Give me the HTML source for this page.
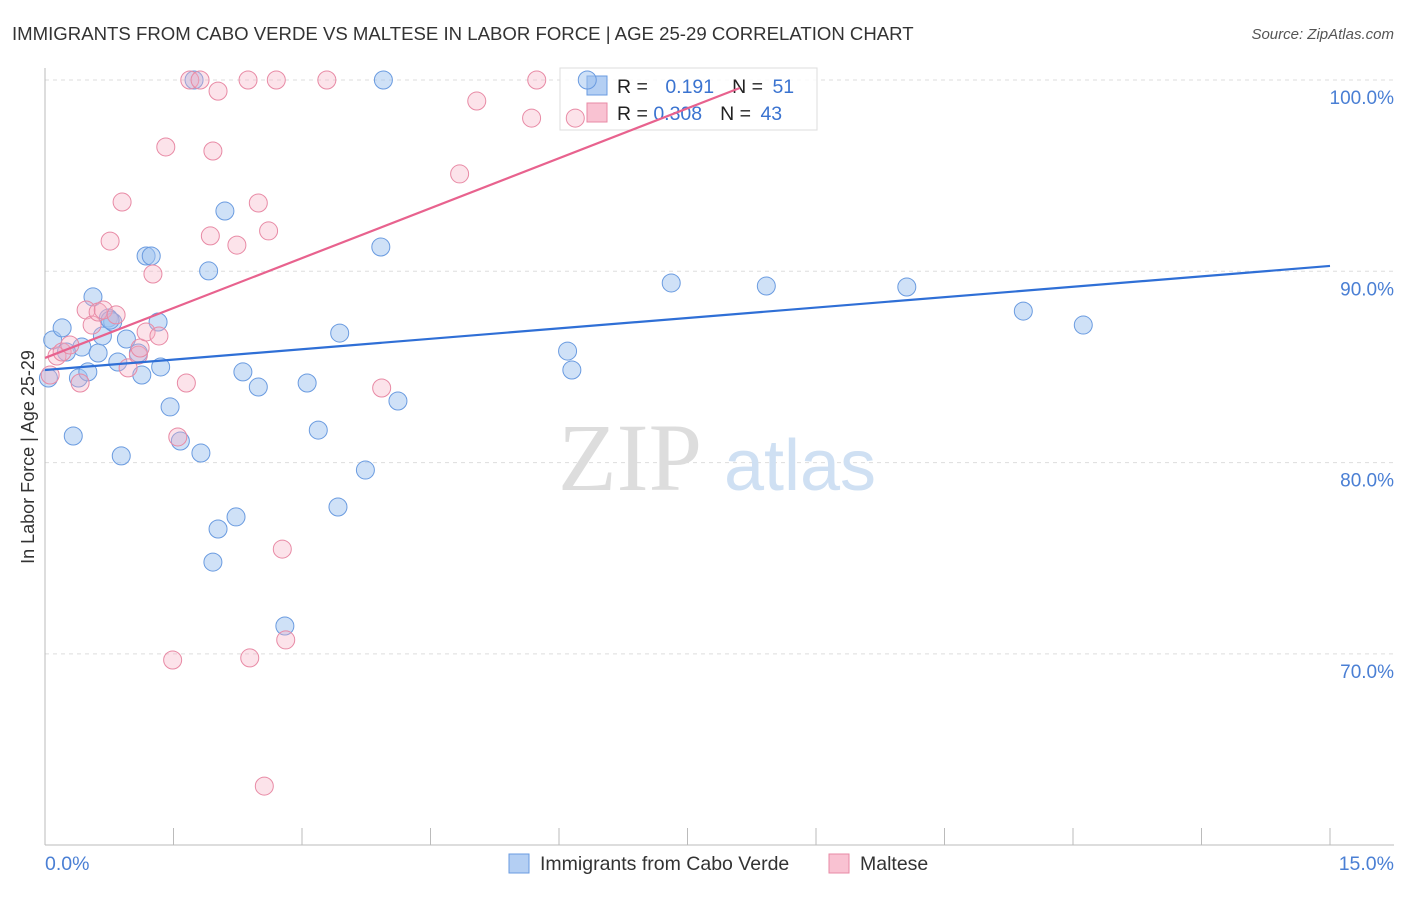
<!DOCTYPE html>
<html><head><meta charset="utf-8"><style>
body{margin:0;background:#fff;font-family:"Liberation Sans",sans-serif;}
</style></head><body>
<svg width="1406" height="892" viewBox="0 0 1406 892" xmlns="http://www.w3.org/2000/svg">
<text x="12" y="40" font-size="18.6" fill="#333">IMMIGRANTS FROM CABO VERDE VS MALTESE IN LABOR FORCE | AGE 25-29 CORRELATION CHART</text>
<text x="1394" y="39" font-size="15" fill="#555" font-style="italic" text-anchor="end">Source: ZipAtlas.com</text>
<g id="grid"></g>
<text x="630" y="490" font-size="96" fill="#ddd" font-family="Liberation Serif,serif" text-anchor="middle">ZIP</text>
<text x="800" y="490" font-size="72" fill="#cfe0f3" text-anchor="middle">atlas</text>
<line x1="45" y1="68" x2="45" y2="845" stroke="#bbb"/>
<line x1="45" y1="845" x2="1394" y2="845" stroke="#bbb"/>
<text transform="translate(34,457) rotate(-90)" font-size="18" fill="#333" text-anchor="middle">In Labor Force | Age 25-29</text>
<text x="45" y="870" font-size="19.5" fill="#4a7fd4">0.0%</text>
<text x="1394" y="870" font-size="19.5" fill="#4a7fd4" text-anchor="end">15.0%</text>
<g>
<rect x="560" y="68" width="257" height="62" fill="rgba(255,255,255,0.85)" stroke="#ddd"/>
<rect x="587" y="76" width="20" height="19" fill="#b4cff3" stroke="#6a9be0"/>
<rect x="587" y="103" width="20" height="19" fill="#f9c2d2" stroke="#e88aa5"/>
<text x="617" y="93" font-size="19.5" fill="#222">R = <tspan fill="#3a73d0" dx="12">0.191</tspan><tspan dx="18" fill="#222">N = </tspan><tspan fill="#3a73d0" dx="4">51</tspan></text>
<text x="617" y="120" font-size="19.5" fill="#222">R = <tspan fill="#3a73d0">0.308</tspan><tspan dx="18" fill="#222">N = </tspan><tspan fill="#3a73d0" dx="4">43</tspan></text>
</g>
<g id="marks"></g>
<g>
<rect x="509" y="854" width="20" height="19" fill="#b4cff3" stroke="#6a9be0"/>
<text x="540" y="870" font-size="19.5" fill="#333">Immigrants from Cabo Verde</text>
<rect x="829" y="854" width="20" height="19" fill="#f9c2d2" stroke="#e88aa5"/>
<text x="860" y="870" font-size="19.5" fill="#333">Maltese</text>
</g>
</svg>
<script>
const yTicks=[100,90,80,70];
const yTickLabels=["100.0%","90.0%","80.0%","70.0%"];
const xTicks=[0,1.5,3,4.5,6,7.5,9,10.5,12,13.5,15];
const blueX=[0.09,0.20,0.33,0.39,0.43,0.50,0.56,0.62,0.67,0.74,0.79,0.85,0.89,0.95,1.09,1.13,1.18,1.24,1.32,1.35,1.46,1.58,1.74,1.82,1.91,1.96,2.02,2.10,2.23,2.31,2.49,2.80,3.06,3.19,3.44,3.74,3.42,3.92,3.95,4.12,6.10,6.15,6.33,7.31,8.42,10.06,11.42,12.12,0.04,0.76,0.25];
const blueY=[86.41,87.04,81.39,84.42,86.04,84.74,88.66,85.73,86.62,87.56,87.35,85.26,80.35,86.46,85.73,84.58,90.80,90.80,87.35,85.00,82.91,81.13,100,80.50,90.02,74.80,76.53,93.15,77.16,84.74,83.95,71.46,84.16,81.70,86.77,79.61,77.68,91.27,100,83.22,85.83,84.84,100,89.39,89.23,89.18,87.92,87.19,84.42,87.45,85.78];
const pinkX=[0.06,0.14,0.20,0.29,0.41,0.48,0.55,0.62,0.68,0.76,0.83,0.90,0.97,1.09,1.11,1.18,1.26,1.33,1.41,1.49,1.55,1.65,1.69,1.81,1.93,1.96,2.02,2.24,2.37,2.39,2.49,2.56,2.61,2.70,2.77,2.81,3.29,3.93,4.84,5.04,5.68,5.74,6.19];
const pinkY=[84.58,85.57,85.78,86.15,84.16,87.98,87.19,87.87,87.98,91.58,87.72,93.62,84.95,85.62,85.99,86.83,89.86,86.62,96.50,69.68,81.34,84.16,100,100,91.85,96.29,99.42,91.37,100,69.79,93.57,63.09,92.11,100,75.48,70.73,100,83.90,95.09,98.90,98.01,100,98.01];
const blueTrend=[84.84,90.28];
const pinkTrend=[85.47,99.58,8.11];
const NS="http://www.w3.org/2000/svg";
const X=v=>45+v*(1285/15);
const Y=v=>80+(100-v)*19.13;
const grid=document.getElementById('grid'), marks=document.getElementById('marks');
function mk(tag,attrs,parent){const e=document.createElementNS(NS,tag);for(const k in attrs)e.setAttribute(k,attrs[k]);parent.appendChild(e);return e;}
yTicks.forEach((t,i)=>{
 const l=mk('line',{x1:45,x2:1394,y1:Y(t),y2:Y(t),stroke:'#ddd','stroke-dasharray':'4,4'},grid);
 
 
 const tx=mk('text',{x:1394,y:Y(t)+24,'font-size':19,fill:'#4a7fd4','text-anchor':'end'},grid);
 tx.textContent=yTickLabels[i];
 
 
});
xTicks.forEach(t=>{
 const l=mk('line',{x1:X(t),x2:X(t),y1:828,y2:845,stroke:'#bbb'},grid);
 
 
});
blueX.forEach((x,i)=>{
 const c=mk('circle',{cx:X(x),cy:Y(blueY[i]),r:9,fill:'rgba(160,195,240,0.5)',stroke:'#6a9be0','stroke-width':1},marks);
 
 
});
pinkX.forEach((x,i)=>{
 const c=mk('circle',{cx:X(x),cy:Y(pinkY[i]),r:9,fill:'rgba(245,175,195,0.35)',stroke:'#e88aa5','stroke-width':1},marks);
 
 
});
const bl=mk('line',{x1:X(0),y1:Y(blueTrend[0]),x2:X(15),y2:Y(blueTrend[1]),stroke:'#2f6fd6','stroke-width':2.2},marks);


const pl=mk('line',{x1:X(0),y1:Y(pinkTrend[0]),x2:X(pinkTrend[2]),y2:Y(pinkTrend[1]),stroke:'#e8628e','stroke-width':2.2},marks);


</script>
</body></html>
